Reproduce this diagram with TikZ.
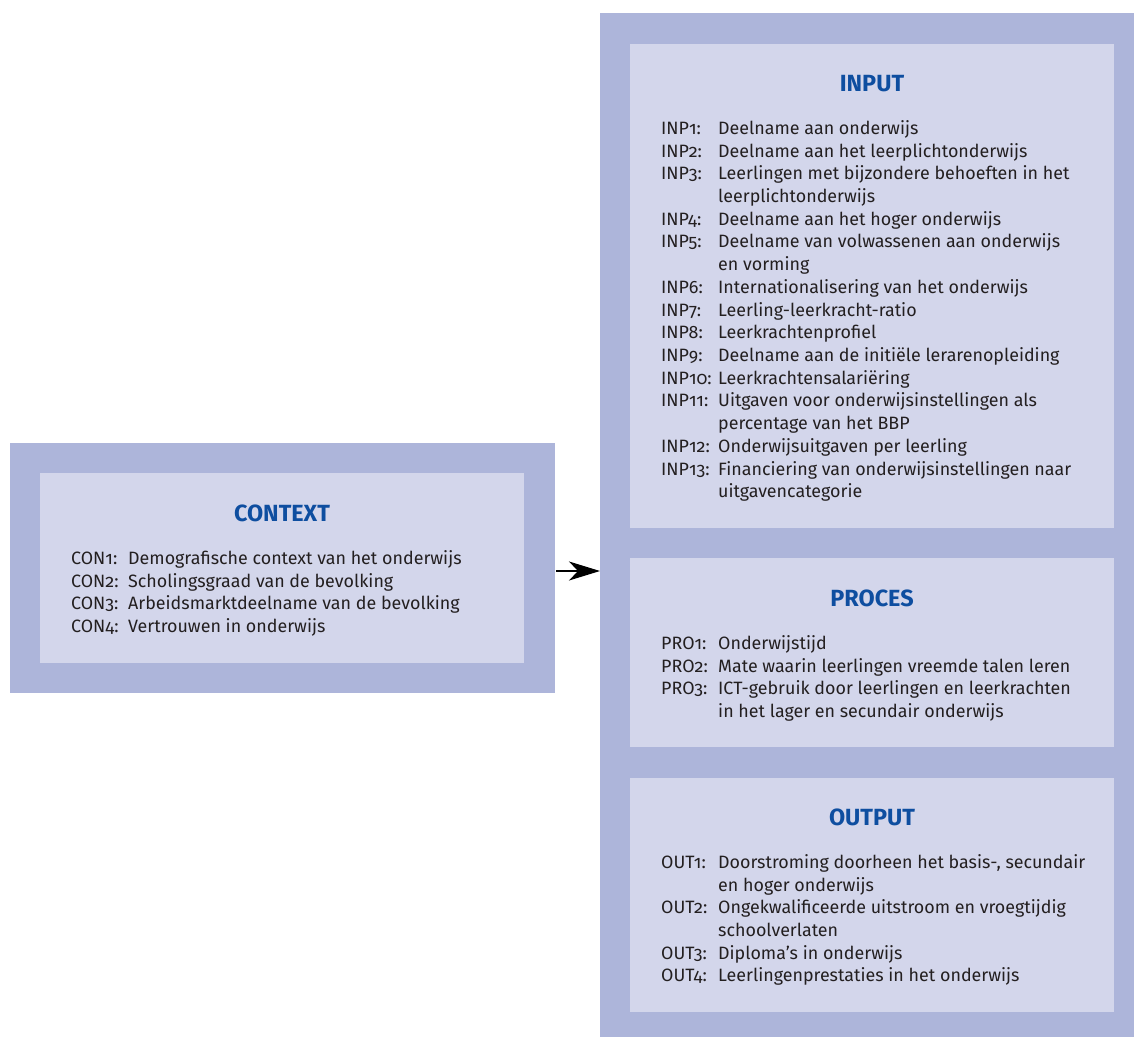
\documentclass[tikz,border=0pt]{standalone}
\usepackage{fontspec}
\setmainfont{Fira Sans}[Numbers=OldStyle]
\usetikzlibrary{arrows.meta}
\definecolor{outerc}{RGB}{173,181,218}
\definecolor{innerc}{RGB}{211,214,235}
\definecolor{titlec}{RGB}{14,78,160}
\definecolor{textc}{RGB}{35,31,32}
\newlength\mymeasure
\begin{document}
\settowidth{\mymeasure}{\fontsize{10pt}{12pt}\selectfont Financiering van onderwijsinstellingen naar}%
\pgfmathsetmacro\bodysize{10*353/\mymeasure}%
\settowidth{\mymeasure}{\fontsize{10pt}{12pt}\selectfont\bfseries OUTPUT}%
\pgfmathsetmacro\titlesize{10*86/\mymeasure}%
\begin{tikzpicture}[x=1pt,y=-1pt]
\tikzset{
  outerbox/.style={fill=outerc, draw=none, inner sep=0pt, anchor=north west},
  innerbox/.style={fill=innerc, draw=none, inner sep=0pt, anchor=north west},
  boxtitle/.style={anchor=base, inner sep=0pt, text=titlec, font=\fontsize{\titlesize pt}{\titlesize pt}\selectfont\bfseries},
  itemlist/.style={anchor=base west, inner sep=0pt, text=textc, font=\fontsize{\bodysize pt}{22.72pt}\selectfont},
  flow/.style={draw=black, line width=1.8pt, -{Stealth[length=31pt,width=19pt,inset=9pt]}}
}
\useasboundingbox (0,0) rectangle (1134,1036);
\path[clip] (0,0) rectangle (1134,1036);
\fill[white] (0,0) rectangle (1134,1036);

% context
\node[outerbox, minimum width=545pt, minimum height=250pt] (ctxout) at (10,443) {};
\node[innerbox, minimum width=484pt, minimum height=190pt] (ctxin) at (40,473) {};
\node[boxtitle] (ctxtitle) at (282,521) {CONTEXT};
\node[itemlist] (ctxlist) at (71,564.3) {\begin{tabular}[t]{@{}p{57pt}@{}l@{}}
CON1: & Demografische context van het onderwijs\\
CON2: & Scholingsgraad van de bevolking\\
CON3: & Arbeidsmarktdeelname van de bevolking\\
CON4: & Vertrouwen in onderwijs
\end{tabular}};

% right column
\node[outerbox, minimum width=560pt, minimum height=1040pt] (colout) at (600,13) {};
\node[innerbox, minimum width=484pt, minimum height=484pt] (inpbox) at (630,44) {};
\node[innerbox, minimum width=484pt, minimum height=189pt] (probox) at (630,558) {};
\node[innerbox, minimum width=484pt, minimum height=234pt] (outbox) at (630,778) {};

\node[boxtitle] (inptitle) at (872,91) {INPUT};
\node[itemlist] (inplist) at (661,134.3) {\begin{tabular}[t]{@{}p{57pt}@{}l@{}}
INP1: & Deelname aan onderwijs\\
INP2: & Deelname aan het leerplichtonderwijs\\
INP3: & Leerlingen met bijzondere behoeften in het\\
 & leerplichtonderwijs\\
INP4: & Deelname aan het hoger onderwijs\\
INP5: & Deelname van volwassenen aan onderwijs\\
 & en vorming\\
INP6: & Internationalisering van het onderwijs\\
INP7: & Leerling-leerkracht-ratio\\
INP8: & Leerkrachtenprofiel\\
INP9: & Deelname aan de initiële lerarenopleiding\\
INP10: & Leerkrachtensalariëring\\
INP11: & Uitgaven voor onderwijsinstellingen als\\
 & percentage van het BBP\\
INP12: & Onderwijsuitgaven per leerling\\
INP13: & Financiering van onderwijsinstellingen naar\\
 & uitgavencategorie
\end{tabular}};

\node[boxtitle] (protitle) at (872,606) {PROCES};
\node[itemlist] (prolist) at (661,649.3) {\begin{tabular}[t]{@{}p{57pt}@{}l@{}}
PRO1: & Onderwijstijd\\
PRO2: & Mate waarin leerlingen vreemde talen leren\\
PRO3: & ICT-gebruik door leerlingen en leerkrachten\\
 & in het lager en secundair onderwijs
\end{tabular}};

\node[boxtitle] (outtitle) at (872,825) {OUTPUT};
\node[itemlist] (outlist) at (661,868.3) {\begin{tabular}[t]{@{}p{57pt}@{}l@{}}
OUT1: & Doorstroming doorheen het basis-, secundair\\
 & en hoger onderwijs\\
OUT2: & Ongekwalificeerde uitstroom en vroegtijdig\\
 & schoolverlaten\\
OUT3: & Diploma’s in onderwijs\\
OUT4: & Leerlingenprestaties in het onderwijs
\end{tabular}};

% arrow
\coordinate (arrstart) at (ctxout.east |- 0,571);
\coordinate (arrend) at (colout.west |- 0,571);
\draw[flow] ([xshift=1pt]arrstart) -- (arrend);
\end{tikzpicture}
\end{document}
